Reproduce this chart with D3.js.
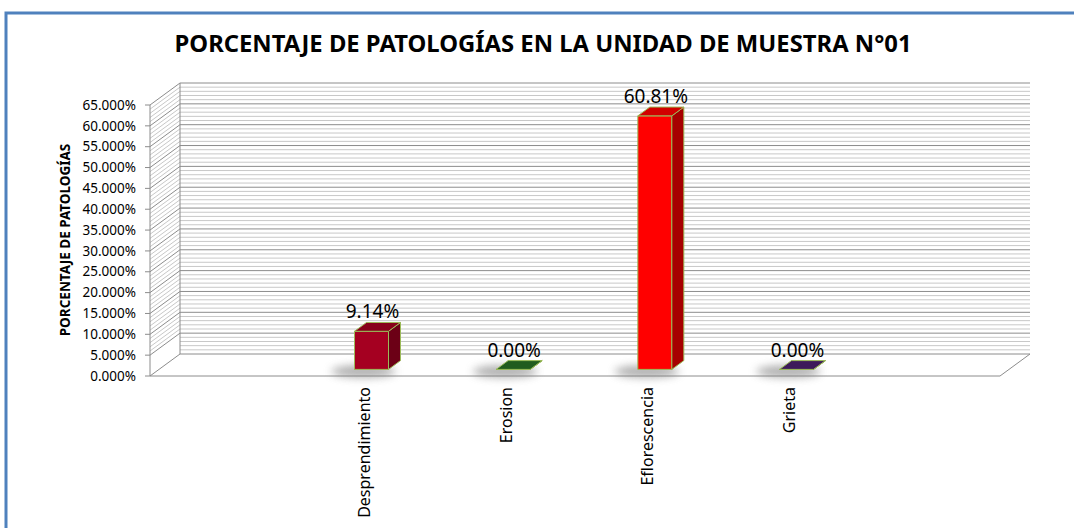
<!DOCTYPE html>
<html>
<head>
<meta charset="utf-8">
<script src="https://cdn.jsdelivr.net/npm/d3@7"></script>
<style>
  body { margin: 0; background: #fff; }
  svg { display: block; font-family: "Noto Sans", sans-serif; }
</style>
</head>
<body>
<svg id="grafico" width="1074" height="528"></svg>
<script>
// Datos del grafico
const categorias = ["", "Desprendimiento", "Erosion", "Eflorescencia", "Grieta", ""];
const valores = [null, 9.14, 0.00, 60.81, 0.00, null];
const coloresBase = [null, "#a50021", "#287024", "#ff0000", "#4a206e", null];
const etiquetas = ["", "9.14%", "0.00%", "60.81%", "0.00%", ""];
const ticksY = [0, 5, 10, 15, 20, 25, 30, 35, 40, 45, 50, 55, 60, 65];
const ticksLabels = ["0.000%", "5.000%", "10.000%", "15.000%", "20.000%", "25.000%", "30.000%",
  "35.000%", "40.000%", "45.000%", "50.000%", "55.000%", "60.000%", "65.000%"];

const svg = d3.select("#grafico");

// Geometria 3D
const x0 = 150, x1 = 1000;
const prof = {dx: 30, dy: -22};          // profundidad del piso
const y = d3.scaleLinear().domain([0, 65]).range([376, 105]);
const x = d3.scaleBand().domain(d3.range(categorias.length)).range([x0, x1]);

// Marco azul
svg.append("rect")
  .attr("x", 6).attr("y", 13)
  .attr("width", 1100).attr("height", 560)
  .attr("fill", "none")
  .attr("stroke", "#4f81bd")
  .attr("stroke-width", 3);

// Titulo
const titulo = svg.append("text")
  .attr("x", 543).attr("y", 52)
  .attr("text-anchor", "middle")
  .attr("font-size", 24)
  .attr("font-weight", "bold")
  .attr("fill", "#000")
  .text("PORCENTAJE DE PATOLOGÍAS EN LA UNIDAD DE MUESTRA N°01");
titulo.attr("textLength", 737).attr("lengthAdjust", "spacingAndGlyphs");

// Filtro para sombras
const defs = svg.append("defs");
defs.append("filter").attr("id", "sombra")
  .attr("x", "-50%").attr("y", "-200%").attr("width", "200%").attr("height", "500%")
  .append("feGaussianBlur").attr("stdDeviation", 4);

// Lineas de division (cada 1%, mayores cada 5%)
const lineas = d3.range(0, 66);
const colorLinea = v => v % 5 === 0 ? "#8c8c8c" : "#c8c8c8";

// pared del fondo
svg.selectAll(".fondo")
  .data(lineas)
  .enter()
  .append("line")
  .attr("x1", x0 + prof.dx).attr("x2", x1 + prof.dx)
  .attr("y1", d => y(d) + prof.dy).attr("y2", d => y(d) + prof.dy)
  .attr("stroke", colorLinea)
  .attr("stroke-width", 1);

// pared lateral (rayado diagonal)
svg.selectAll(".lateral")
  .data(lineas.filter(v => v >= 5))
  .enter()
  .append("line")
  .attr("x1", x0).attr("y1", d => y(d))
  .attr("x2", x0 + prof.dx).attr("y2", d => y(d) + prof.dy)
  .attr("stroke", colorLinea)
  .attr("stroke-width", 1);

// borde del piso y pared lateral
svg.append("path")
  .attr("d", `M${x0 + prof.dx},${y(65) + prof.dy} L${x0 + prof.dx},${y(0) + prof.dy}`)
  .attr("stroke", "#8c8c8c").attr("fill", "none");
svg.append("path")
  .attr("d", `M${x0},${y(0)} L${x0 + prof.dx},${y(0) + prof.dy}`)
  .attr("stroke", "#8c8c8c").attr("fill", "none");
svg.append("path")
  .attr("d", `M${x0},${y(0)} L${x1},${y(0)} L${x1 + prof.dx},${y(0) + prof.dy}`)
  .attr("stroke", "#8c8c8c").attr("fill", "none");

// Eje Y
svg.append("line")
  .attr("x1", x0).attr("x2", x0)
  .attr("y1", y(65)).attr("y2", y(0))
  .attr("stroke", "#8c8c8c");

svg.selectAll(".tick")
  .data(ticksY)
  .enter()
  .append("line")
  .attr("x1", x0 - 5).attr("x2", x0)
  .attr("y1", d => y(d)).attr("y2", d => y(d))
  .attr("stroke", "#8c8c8c");

svg.selectAll(".tickLabel")
  .data(ticksY)
  .enter()
  .append("text")
  .attr("x", 136)
  .attr("y", d => y(d))
  .attr("dy", "0.35em")
  .attr("text-anchor", "end")
  .attr("font-size", 13.5)
  .attr("fill", "#000")
  .text((d, i) => ticksLabels[i]);

svg.append("text")
  .attr("transform", "translate(70,240) rotate(-90)")
  .attr("text-anchor", "middle")
  .attr("font-size", 13.5)
  .attr("font-weight", "bold")
  .attr("fill", "#000")
  .text("PORCENTAJE DE PATOLOGÍAS");

// Barras 3D
const anchoBarra = x.bandwidth() * 0.24;
const pb = {dx: prof.dx * 0.4, dy: prof.dy * 0.4};      // profundidad de la barra
const off = {dx: prof.dx * 0.3, dy: prof.dy * 0.3};     // desplazamiento hacia el centro

const barras = valores.map((v, i) => ({v, i, color: coloresBase[i], label: etiquetas[i]}))
  .filter(d => d.v !== null);

barras.forEach(d => {
  const cx = x(d.i) + x.bandwidth() / 2;
  const xl = cx - anchoBarra / 2 + off.dx;
  const xr = xl + anchoBarra;
  const yb = y(0) + off.dy;
  const yt = y(d.v) + off.dy;
  const base = d3.color(d.color);
  const g = svg.append("g");

  // sombra
  g.append("ellipse")
    .attr("cx", (xl + xr) / 2 - 8)
    .attr("cy", yb + 2)
    .attr("rx", anchoBarra * 0.95)
    .attr("ry", 6)
    .attr("fill", "#777")
    .attr("opacity", 0.6)
    .attr("filter", "url(#sombra)");

  // cara frontal
  g.append("path")
    .attr("d", `M${xl},${yb} L${xr},${yb} L${xr},${yt} L${xl},${yt} Z`)
    .attr("fill", base.formatHex())
    .attr("stroke", "#9bbb59").attr("stroke-width", 1);
  // cara lateral
  g.append("path")
    .attr("d", `M${xr},${yb} L${xr + pb.dx},${yb + pb.dy} L${xr + pb.dx},${yt + pb.dy} L${xr},${yt} Z`)
    .attr("fill", base.darker(1.2).formatHex())
    .attr("stroke", "#9bbb59").attr("stroke-width", 1);
  // cara superior
  g.append("path")
    .attr("d", `M${xl},${yt} L${xr},${yt} L${xr + pb.dx},${yt + pb.dy} L${xl + pb.dx},${yt + pb.dy} Z`)
    .attr("fill", base.darker(0.55).formatHex())
    .attr("stroke", "#9bbb59").attr("stroke-width", 1);

  // etiqueta de datos
  g.append("text")
    .attr("x", (xl + xr) / 2 + 1)
    .attr("y", yt + pb.dy - 4)
    .attr("text-anchor", "middle")
    .attr("font-size", 19)
    .attr("fill", "#000")
    .text(d.label);
});

// Etiquetas de categoria (verticales)
svg.selectAll(".cat")
  .data(categorias.map((c, i) => ({c, i})).filter(d => d.c !== ""))
  .enter()
  .append("text")
  .attr("transform", d => `translate(${x(d.i) + x.bandwidth() / 2 + 2},387) rotate(-90)`)
  .attr("dy", "0.35em")
  .attr("text-anchor", "end")
  .attr("font-size", 16)
  .attr("fill", "#000")
  .text(d => d.c);
</script>
</body>
</html>
